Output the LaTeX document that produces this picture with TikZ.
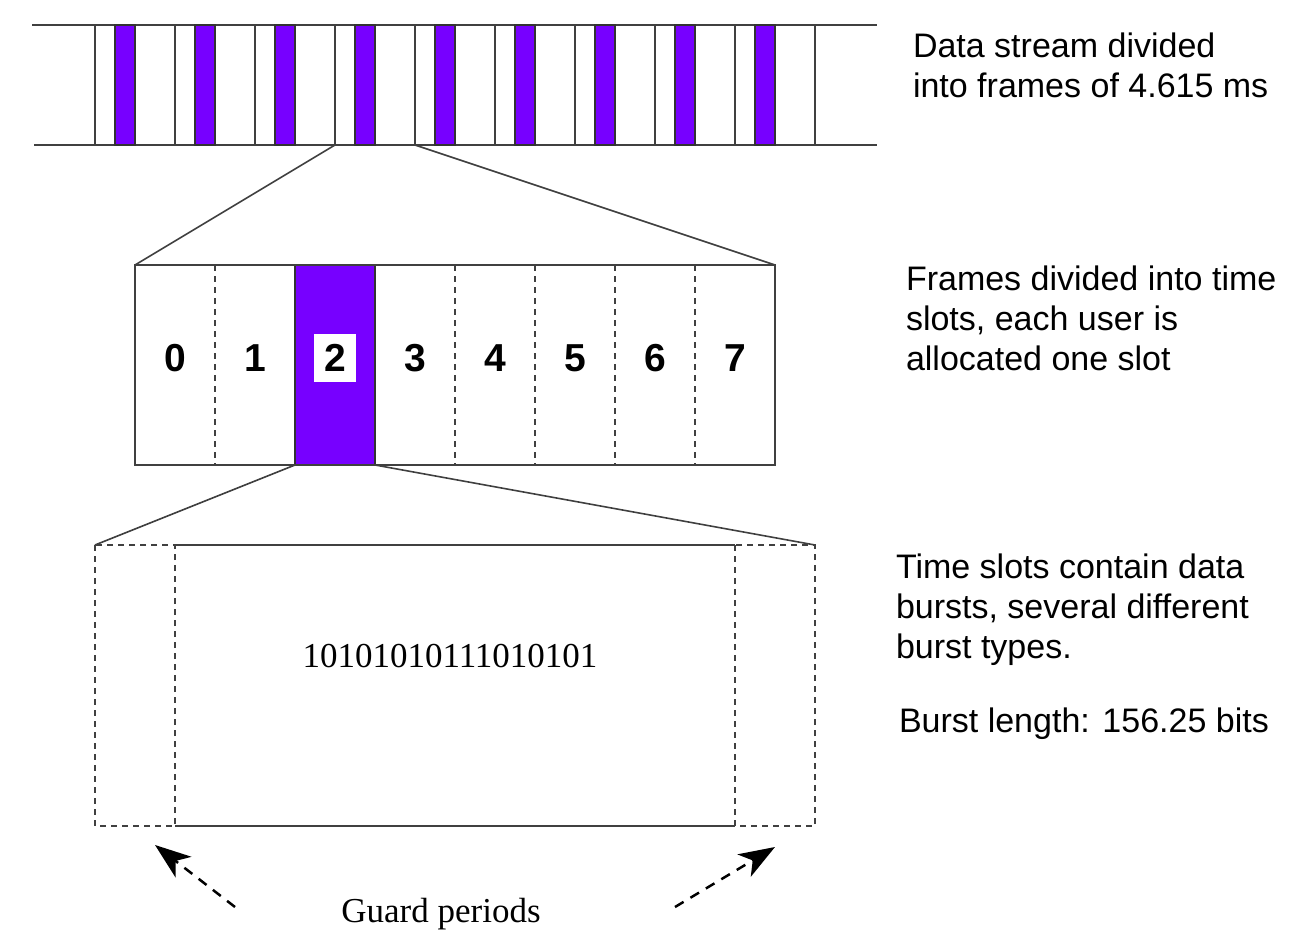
\documentclass[tikz,border=0pt]{standalone}
\usepackage{fontspec}
\setmainfont{Liberation Serif}
\setsansfont{Liberation Sans}
\usetikzlibrary{arrows.meta}
\definecolor{slotpurple}{RGB}{119,0,255}
\begin{document}
\begin{tikzpicture}[x=1pt,y=-1pt,line width=2pt]
\tikzstyle{frameline}=[draw=black!75]
\tikzstyle{burstbar}=[fill=slotpurple,draw=black!80]
\tikzstyle{guard}=[draw=black!75,line width=1.3pt,dash pattern=on 6pt off 5pt]
\tikzstyle{digit}=[inner sep=0,minimum width=42,minimum height=48,font=\sffamily\bfseries\fontsize{39}{40}\selectfont]
\tikzstyle{note}=[anchor=base west,inner sep=0,align=left,font=\sffamily\fontsize{34}{40}\selectfont]
\tikzstyle{serif}=[inner sep=0,font=\rmfamily\fontsize{35}{40}\selectfont]
\tikzstyle{pointer}=[draw=black,line width=2.5pt,dash pattern=on 10pt off 8pt,-{Stealth[length=36pt,width=26pt,inset=10pt]}]
\useasboundingbox (0,0) rectangle (1313,941);

  \draw[frameline] (32,25) -- (877,25) (34,145) -- (877,145);
  \foreach \i in {0,...,9}
    \draw[frameline] (95+80*\i,25) -- (95+80*\i,145);
  \foreach \i in {0,...,8}
    \draw[burstbar] (115+80*\i,25) rectangle (135+80*\i,145);
  \coordinate (f3) at (335,145);
  \coordinate (f4) at (415,145);

  \coordinate (tl) at (135,265);
  \coordinate (tr) at (775,265);
  \coordinate (sl) at (295,465);
  \coordinate (sr) at (375,465);
  \draw[burstbar] (295,265) rectangle (sr);
  \draw[frameline] (tl) rectangle (775,465);
  \foreach \x in {215,455,535,615,695}
    \draw[guard] (\x,265) -- (\x,465);
  \foreach \n/\bg in {0/none,1/none,2/white,3/none,4/none,5/none,6/none,7/none}
    \node[digit,fill=\bg] (d\n) at (175+80*\n,358) {\n};
  \draw[frameline,line width=1.6pt] (f3) -- (tl) (f4) -- (tr);

  \coordinate (bl) at (95,545);
  \coordinate (br) at (815,545);
  \draw[frameline,line width=1.6pt] (sl) -- (bl) (sr) -- (br);
  \draw[frameline] (175,545) -- (735,545) (175,826) -- (735,826);
  \draw[guard] (bl) rectangle (175,826);
  \draw[guard] (735,545) rectangle (815,826);
  \node[serif,anchor=base] (bits) at (450,667) {10101010111010101};

  \node[serif,anchor=base] (guards) at (441,922) {Guard periods};
  \coordinate (gl) at (235,907);
  \coordinate (gr) at (675,907);
  \draw[pointer] (gl) -- (155,845);
  \draw[pointer] (gr) -- (775,847);

  \node[note] (stream) at (912,98) {Data stream divided\\into frames of 4.615 ms};
  \node[note] (slots) at (905,370) {Frames divided into time\\slots, each user is\\allocated one slot};
  \node[note] (bursts) at (895,658) {Time slots contain data\\bursts, several different\\burst types.};
  \node[note] (length) at (898,732) {Burst length: 156.25 bits};
\end{tikzpicture}
\end{document}
